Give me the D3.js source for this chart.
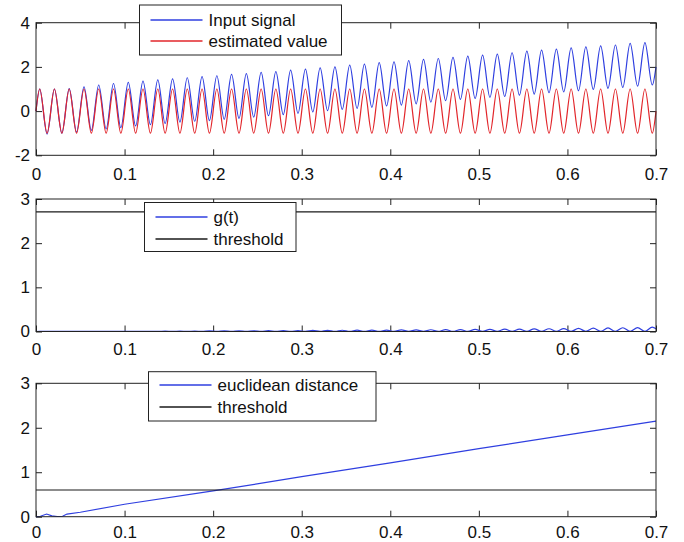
<!DOCTYPE html>
<html>
<head>
<meta charset="utf-8">
<script src="https://cdn.jsdelivr.net/npm/d3@7"></script>
<style>
  body { margin: 0; background: #fff; }
  text { font-family: "Liberation Sans", Arial, sans-serif; fill: #111; }
</style>
</head>
<body>
<div class="chart"></div>
<script>
// Data
//= ================================
// times of the zero start, each peak / trough of the 60 Hz wave, and the end
var tExt = [0,
  0.0042, 0.0125, 0.0208, 0.0292, 0.0375, 0.0458, 0.0542, 0.0625, 0.0708, 0.0792,
  0.0875, 0.0958, 0.1042, 0.1125, 0.1208, 0.1292, 0.1375, 0.1458, 0.1542, 0.1625,
  0.1708, 0.1792, 0.1875, 0.1958, 0.2042, 0.2125, 0.2208, 0.2292, 0.2375, 0.2458,
  0.2542, 0.2625, 0.2708, 0.2792, 0.2875, 0.2958, 0.3042, 0.3125, 0.3208, 0.3292,
  0.3375, 0.3458, 0.3542, 0.3625, 0.3708, 0.3792, 0.3875, 0.3958, 0.4042, 0.4125,
  0.4208, 0.4292, 0.4375, 0.4458, 0.4542, 0.4625, 0.4708, 0.4792, 0.4875, 0.4958,
  0.5042, 0.5125, 0.5208, 0.5292, 0.5375, 0.5458, 0.5542, 0.5625, 0.5708, 0.5792,
  0.5875, 0.5958, 0.6042, 0.6125, 0.6208, 0.6292, 0.6375, 0.6458, 0.6542, 0.6625,
  0.6708, 0.6792, 0.6875, 0.6958,
  0.7];

var inputSignal = [0,
  1.0, -1.04, 1.0, -1.0, 1.02, -0.95, 1.1, -0.87, 1.18, -0.81,
  1.25, -0.75, 1.3, -0.67, 1.36, -0.61, 1.41, -0.56, 1.46, -0.5,
  1.51, -0.46, 1.56, -0.43, 1.6, -0.37, 1.66, -0.33, 1.7, -0.27,
  1.75, -0.21, 1.79, -0.16, 1.85, -0.1, 1.9, -0.04, 1.96, 0.02,
  2.0, 0.08, 2.08, 0.12, 2.13, 0.17, 2.19, 0.23, 2.23, 0.27,
  2.28, 0.33, 2.34, 0.41, 2.38, 0.47, 2.43, 0.53, 2.49, 0.57,
  2.53, 0.62, 2.58, 0.66, 2.64, 0.72, 2.71, 0.77, 2.76, 0.83,
  2.8, 0.87, 2.86, 0.92, 2.91, 0.98, 2.95, 1.03, 2.99, 1.07,
  3.06, 1.13, 3.1, 1.18,
  2.0];

var estimatedValue = [0,
  1, -1, 1, -1, 1, -1, 1, -1, 1, -1,
  1, -1, 1, -1, 1, -1, 1, -1, 1, -1,
  1, -1, 1, -1, 1, -1, 1, -1, 1, -1,
  1, -1, 1, -1, 1, -1, 1, -1, 1, -1,
  1, -1, 1, -1, 1, -1, 1, -1, 1, -1,
  1, -1, 1, -1, 1, -1, 1, -1, 1, -1,
  1, -1, 1, -1, 1, -1, 1, -1, 1, -1,
  1, -1, 1, -1, 1, -1, 1, -1, 1, -1,
  1, -1, 1, -1,
  0];

var gValues = [0,
  0.001, 0.002, 0.001, 0.002, 0.001, 0.003, 0.001, 0.003, 0.001, 0.004,
  0.001, 0.004, 0.001, 0.005, 0.001, 0.006, 0.001, 0.008, 0.001, 0.009,
  0.001, 0.011, 0.001, 0.012, 0.001, 0.014, 0.001, 0.015, 0.001, 0.017,
  0.001, 0.019, 0.001, 0.02, 0.001, 0.022, 0.001, 0.024, 0.001, 0.026,
  0.002, 0.028, 0.002, 0.03, 0.002, 0.031, 0.002, 0.033, 0.002, 0.035,
  0.002, 0.037, 0.002, 0.04, 0.002, 0.042, 0.002, 0.044, 0.002, 0.047,
  0.002, 0.05, 0.002, 0.053, 0.002, 0.056, 0.003, 0.059, 0.003, 0.062,
  0.003, 0.066, 0.003, 0.07, 0.003, 0.075, 0.003, 0.08, 0.003, 0.085,
  0.003, 0.09, 0.004, 0.1,
  0.06];
var gThreshold = 2.71;

var distT = [0, 0.005, 0.012, 0.018, 0.024, 0.03, 0.035, 0.05, 0.1, 0.2, 0.3, 0.4, 0.5, 0.6, 0.7];
var distValues = [0, 0.01, 0.06, 0.02, 0.005, 0.01, 0.06, 0.1, 0.28, 0.58, 0.9, 1.21, 1.53, 1.84, 2.15];
var distThreshold = 0.6;

var xTicks = [0, 0.1, 0.2, 0.3, 0.4, 0.5, 0.6, 0.7];
var topYTicks = [-2, 0, 2, 4];
var midYTicks = [0, 1, 2, 3];
var botYTicks = [0, 1, 2, 3];

// Set up the page
//= ================================
var svgWidth = 684;
var svgHeight = 542;
var left = 36, right = 656;
var axisColor = "#222";
var blueColor = "#2f3fe0";
var redColor = "#e2262b";
var blackColor = "#1a1a1a";

var svg = d3.select(".chart")
  .append("svg")
  .attr("width", svgWidth)
  .attr("height", svgHeight);

var xScale = d3.scaleLinear().domain([0, 0.7]).range([left, right]);

function fmt(d) {
  return String(d).replace("\u2212", "-");
}

// draws one subplot frame with inward ticks on all four sides
function makePanel(top, bottom, yDomain, yTicks, xPad) {
  var yScale = d3.scaleLinear().domain(yDomain).range([bottom, top]);
  var g = svg.append("g");

  g.append("g")
    .attr("transform", "translate(0," + bottom + ")")
    .call(d3.axisBottom(xScale).tickValues(xTicks).tickFormat(fmt)
      .tickSizeInner(-6).tickSizeOuter(0).tickPadding(xPad));
  g.append("g")
    .attr("transform", "translate(0," + top + ")")
    .call(d3.axisTop(xScale).tickValues(xTicks).tickFormat("")
      .tickSizeInner(-6).tickSizeOuter(0));
  g.append("g")
    .attr("transform", "translate(" + left + ",0)")
    .call(d3.axisLeft(yScale).tickValues(yTicks).tickFormat(fmt)
      .tickSizeInner(-6).tickSizeOuter(0).tickPadding(6));
  g.append("g")
    .attr("transform", "translate(" + right + ",0)")
    .call(d3.axisRight(yScale).tickValues(yTicks).tickFormat("")
      .tickSizeInner(-6).tickSizeOuter(0));

  g.selectAll(".domain").remove();
  g.selectAll(".tick line").attr("stroke", axisColor);
  g.selectAll(".tick text")
    .style("font-size", "17px")
    .style("font-family", "'Liberation Sans', Arial, sans-serif")
    .attr("fill", "#111");

  var plot = svg.append("g");

  svg.append("rect")
    .attr("x", left)
    .attr("y", top)
    .attr("width", right - left)
    .attr("height", bottom - top)
    .attr("fill", "none")
    .attr("stroke", axisColor)
    .attr("stroke-width", 1);

  return { y: yScale, plot: plot };
}

function drawLine(panel, xs, ys, color, curve) {
  var line = d3.line()
    .x(function(d, i) { return xScale(xs[i]); })
    .y(function(d) { return panel.y(d); })
    .curve(curve || d3.curveLinear);
  panel.plot.append("path")
    .datum(ys)
    .attr("d", line)
    .attr("fill", "none")
    .attr("stroke", color)
    .attr("stroke-width", 1.2);
}

function drawHLine(panel, value, color) {
  panel.plot.append("line")
    .attr("x1", xScale(0)).attr("x2", xScale(0.7))
    .attr("y1", panel.y(value)).attr("y2", panel.y(value))
    .attr("stroke", color)
    .attr("stroke-width", 1.2);
}

function drawLegend(box, items) {
  var lg = svg.append("g");
  lg.append("rect")
    .attr("x", box.x).attr("y", box.y)
    .attr("width", box.w).attr("height", box.h)
    .attr("fill", "#fff")
    .attr("stroke", axisColor);
  items.forEach(function(item, i) {
    var cy = Math.round(box.y + box.first + i * box.step);
    lg.append("path")
      .attr("d", "M" + (box.x + 11) + "," + cy + "H" + (box.x + 63))
      .style("stroke", item.color)
      .style("stroke-width", "1.3px")
      .style("fill", "none");
    lg.append("text")
      .attr("x", box.x + 69)
      .attr("y", cy + 6)
      .style("font-size", "17px")
      .text(item.label);
  });
}

// Top: input signal and estimated value
var p1 = makePanel(22.7, 155.3, [-2, 4], topYTicks, 12.5);
drawLine(p1, tExt, inputSignal, blueColor, d3.curveMonotoneX);
drawLine(p1, tExt, estimatedValue, redColor, d3.curveMonotoneX);
drawLegend({ x: 139.5, y: 5, w: 202, h: 50, first: 14.5, step: 21.5 }, [
  { label: "Input signal", color: blueColor },
  { label: "estimated value", color: redColor }
]);

// Middle: g(t) and threshold
var p2 = makePanel(199, 331.5, [0, 3], midYTicks, 11.5);
drawLine(p2, tExt, gValues, blueColor, d3.curveMonotoneX);
drawHLine(p2, gThreshold, blackColor);
drawLegend({ x: 144.5, y: 202.5, w: 151.5, h: 49, first: 14.5, step: 21.5 }, [
  { label: "g(t)", color: blueColor },
  { label: "threshold", color: blackColor }
]);

// Bottom: euclidean distance and threshold
var p3 = makePanel(383.3, 516.7, [0, 3], botYTicks, 9);
drawLine(p3, distT, distValues, blueColor);
drawHLine(p3, distThreshold, blackColor);
drawLegend({ x: 148.5, y: 371.7, w: 227.5, h: 49.3, first: 13.5, step: 21.7 }, [
  { label: "euclidean distance", color: blueColor },
  { label: "threshold", color: blackColor }
]);
</script>
</body>
</html>
